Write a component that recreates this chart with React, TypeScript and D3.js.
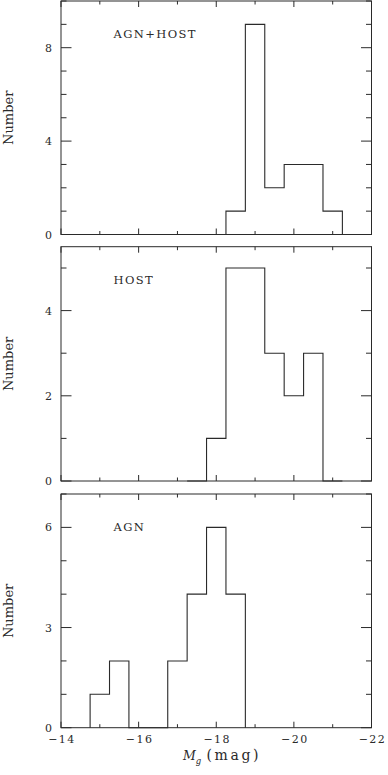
import { useEffect, useRef } from 'react';
import * as d3 from 'd3';

// bin centres (mag) and counts; bins are 0.5 mag wide
const binWidth = 0.5;
const agnHostBins = [-18, -18.5, -19, -19.5, -20, -20.5, -21, -21.5];
const agnHostCounts = [0, 1, 9, 2, 3, 3, 1, 0];
const hostBins = [-17.5, -18, -18.5, -19, -19.5, -20, -20.5, -21];
const hostCounts = [0, 1, 5, 5, 3, 2, 3, 0];
const agnBins = [-15, -15.5, -16, -16.5, -17, -17.5, -18, -18.5];
const agnCounts = [1, 2, 0, 0, 2, 4, 6, 4];

const panelLabels = ['AGN+HOST', 'HOST', 'AGN'];
const yMaxes = [10, 5.5, 7];
const yLabelEvery = [4, 2, 3];
const xTickValues = [-14, -15, -16, -17, -18, -19, -20, -21, -22];

const W = 388;
const H = 775;
const font = '"DejaVu Serif", "Liberation Serif", serif';
const ink = '#2a2a2a';

function App() {
  const ref = useRef<SVGSVGElement>(null);

  useEffect(() => {
    const svg = d3.select(ref.current);
    svg.selectAll('*').remove();

    const left = 61;
    const right = 371.5;
    const panels = [
      { top: 1, bottom: 234.5, bins: agnHostBins, counts: agnHostCounts },
      { top: 246.7, bottom: 481, bins: hostBins, counts: hostCounts },
      { top: 494, bottom: 727.7, bins: agnBins, counts: agnCounts },
    ];

    const x = d3.scaleLinear().domain([-14, -22]).range([left, right]);

    panels.forEach((p, k) => {
      const y = d3.scaleLinear().domain([0, yMaxes[k]]).range([p.bottom, p.top]);
      const g = svg.append('g');

      // histogram outline
      const pts: [number, number][] = [];
      p.bins.forEach((b, i) => {
        const lo = b + binWidth / 2;
        const hi = b - binWidth / 2;
        if (i === 0) pts.push([lo, 0]);
        pts.push([lo, p.counts[i]]);
        pts.push([hi, p.counts[i]]);
        if (i === p.bins.length - 1) pts.push([hi, 0]);
      });
      const line = d3
        .line<[number, number]>()
        .x((d) => x(d[0]))
        .y((d) => y(d[1]));
      g.append('path')
        .attr('d', line(pts))
        .attr('fill', 'none')
        .attr('stroke', ink)
        .attr('stroke-width', 1.1);

      // frame
      g.append('rect')
        .attr('x', left)
        .attr('y', p.top)
        .attr('width', right - left)
        .attr('height', p.bottom - p.top)
        .attr('fill', 'none')
        .attr('stroke', ink)
        .attr('stroke-width', 1);

      // x ticks (top and bottom, inward)
      xTickValues.forEach((v) => {
        const major = v % 2 === 0;
        const len = major ? 6 : 3.5;
        g.append('line')
          .attr('x1', x(v)).attr('x2', x(v))
          .attr('y1', p.bottom).attr('y2', p.bottom - len)
          .attr('stroke', ink);
        g.append('line')
          .attr('x1', x(v)).attr('x2', x(v))
          .attr('y1', p.top).attr('y2', p.top + len)
          .attr('stroke', ink);
        if (k === panels.length - 1 && major) {
          g.append('text')
            .attr('x', x(v) + 1)
            .attr('y', 743)
            .attr('text-anchor', 'middle')
            .attr('font-family', font)
            .attr('font-size', 11)
            .attr('letter-spacing', 1.5)
            .attr('fill', ink)
            .text(`\u2212${Math.abs(v)}`);
        }
      });

      // y ticks (left and right, inward)
      d3.range(0, Math.floor(yMaxes[k]) + 1).forEach((v) => {
        const major = v % yLabelEvery[k] === 0;
        const len = major ? 10.5 : 5.5;
        g.append('line')
          .attr('x1', left).attr('x2', left + len)
          .attr('y1', y(v)).attr('y2', y(v))
          .attr('stroke', ink);
        g.append('line')
          .attr('x1', right).attr('x2', right - len)
          .attr('y1', y(v)).attr('y2', y(v))
          .attr('stroke', ink);
        if (major) {
          g.append('text')
            .attr('x', 52)
            .attr('y', y(v) + 4)
            .attr('text-anchor', 'end')
            .attr('font-family', font)
            .attr('font-size', 11)
            .attr('fill', ink)
            .text(String(v));
        }
      });

      // y axis title
      g.append('text')
        .attr('transform', `translate(13,${(p.top + p.bottom) / 2}) rotate(-90)`)
        .attr('text-anchor', 'middle')
        .attr('font-family', font)
        .attr('font-size', 13)
        .attr('fill', ink)
        .text('Number');

      // panel label
      g.append('text')
        .attr('x', 113.5)
        .attr('y', p.top + 37.2)
        .attr('font-family', font)
        .attr('font-size', 11.5)
        .attr('letter-spacing', 1.4)
        .attr('fill', ink)
        .text(panelLabels[k]);
    });

    // x axis title: M_g (mag)
    const t = svg
      .append('text')
      .attr('x', 183)
      .attr('y', 760)
      .attr('font-family', font)
      .attr('font-size', 14)
      .attr('fill', ink);
    t.append('tspan').attr('font-style', 'italic').attr('font-size', 12.5).text('M');
    t.append('tspan').attr('font-style', 'italic').attr('font-size', 8.5).attr('dy', 3.5).text('g');
    t.append('tspan')
      .attr('x', 206.5)
      .attr('dy', -3.5)
      .attr('letter-spacing', 2.6)
      .text('(mag)');
  }, []);

  return (
    <svg
      ref={ref}
      width={W}
      height={H}
      style={{ position: 'absolute', left: 0, top: 0, background: '#fff' }}
    />
  );
}

export default App;
